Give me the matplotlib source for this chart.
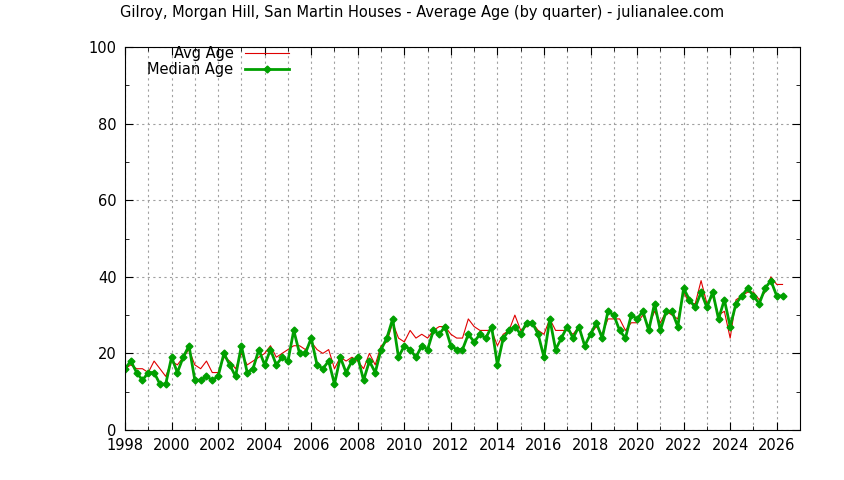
import numpy as np
import matplotlib.pyplot as plt

median_age = [16, 18, 15, 13, 15, 15, 12, 12, 19, 15, 19, 22, 13, 13, 14, 13,
              14, 20, 17, 14, 22, 15, 16, 21, 17, 21, 17, 19, 18, 26, 20, 20,
              24, 17, 16, 18, 12, 19, 15, 18, 19, 13, 18, 15, 21, 24, 29, 19,
              22, 21, 19, 22, 21, 26, 25, 27, 22, 21, 21, 25, 23, 25, 24, 27,
              17, 24, 26, 27, 25, 28, 28, 25, 19, 29, 21, 24, 27, 24, 27, 22,
              25, 28, 24, 31, 30, 26, 24, 30, 29, 31, 26, 33, 26, 31, 31, 27,
              37, 34, 32, 36, 32, 36, 29, 34, 27, 33, 35, 37, 35, 33, 37, 39,
              35, 35]
avg_age = [16, 17, 16, 16, 15, 18, 16, 14, 18, 17, 19, 21, 17, 16, 18, 15,
           15, 19, 18, 16, 20, 17, 18, 19, 20, 22, 19, 20, 21, 22, 22, 21,
           23, 21, 20, 21, 16, 19, 18, 19, 18, 16, 20, 17, 22, 23, 28, 24,
           23, 26, 24, 25, 24, 26, 27, 27, 25, 24, 24, 29, 27, 26, 26, 26,
           22, 25, 26, 30, 26, 27, 28, 26, 25, 29, 26, 26, 26, 25, 27, 22,
           25, 27, 25, 29, 29, 29, 26, 28, 28, 30, 27, 31, 28, 31, 30, 29,
           36, 33, 33, 39, 33, 35, 30, 31, 24, 34, 35, 36, 36, 34, 36, 40,
           38, 38]
quarters = 1998 + np.arange(len(median_age)) * 0.25
xticks = list(range(1998, 2027, 2))

fig = plt.figure(figsize=(8.44, 4.8), dpi=100)
ax = fig.add_axes([125/844, 50/480, 675/844, 383/480])

ax.plot(quarters, avg_age, color='#e00000', lw=0.8, label='Avg Age')
ax.plot(quarters, median_age, color='#00a000', lw=2, marker='D', ms=3.5,
        label='Median Age')

ax.set_xlim(1998, 2027)
ax.set_ylim(0, 100)
ax.set_xticks(xticks)
ax.set_yticks(range(0, 101, 20))
ax.set_xticks(np.arange(1999, 2027, 2), minor=True)
ax.set_yticks(range(10, 101, 20), minor=True)
ax.tick_params(which='both', direction='in', top=True, right=True, labelsize=10.5)
ax.tick_params(axis='x', pad=6)
ax.tick_params(axis='y', pad=6)
ax.tick_params(which='major', length=6)
ax.tick_params(which='minor', length=3)
ax.grid(True, which='major', color='#a0a0a0', ls=(0, (2, 3)), lw=0.8)
ax.grid(True, which='minor', axis='x', color='#a0a0a0', ls=(0, (2, 3)), lw=0.8)
for s in ax.spines.values():
    s.set_linewidth(0.8)

ax.legend(loc='upper left', frameon=False, markerfirst=False, fontsize=10.5,
          handlelength=3, borderaxespad=0.2, labelspacing=0.05,
          bbox_to_anchor=(0.02, 1.025))
fig.text(0.5, 0.965, 'Gilroy, Morgan Hill, San Martin Houses - Average Age (by quarter) - julianalee.com',
         ha='center', fontsize=10.5)

fig.savefig('out.png', dpi=100)
